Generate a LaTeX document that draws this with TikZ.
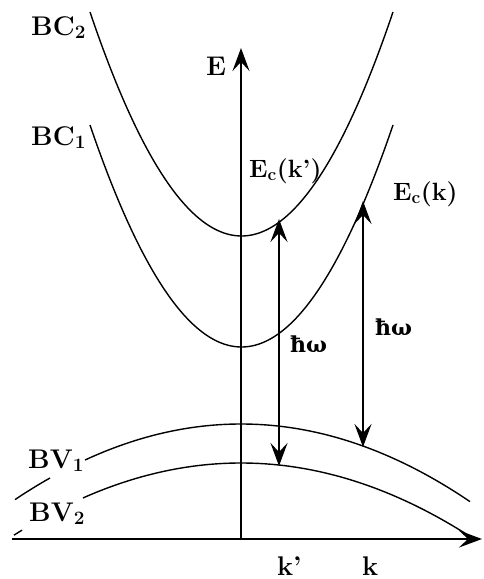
\documentclass[tikz,border=0pt]{standalone}
\usepackage{fontspec}
\newfontfamily\omfont{DejaVu Serif}
\usetikzlibrary{arrows.meta}
\begin{document}
\begin{tikzpicture}[x=1pt,y=-1pt,
  band/.style={line width=1.4pt, smooth, samples=80},
  tipa/.tip={Stealth[length=23pt,width=17pt,inset=9pt]},
  axis/.style={line width=2.6pt, -tipa},
  trans/.style={line width=2.4pt, tipa-tipa},
  lab/.style={inner sep=0pt, anchor=base west, font=\fontsize{27}{29}\selectfont\bfseries},
  lbl/.style={inner sep=0pt, anchor=base west, font=\fontsize{25}{27}\selectfont\bfseries},
  hw/.style={inner sep=0pt, anchor=base west, font=\fontsize{22}{24}\selectfont\omfont\bfseries}]
\useasboundingbox (0,0) rectangle (483,579);
% coordinates
\coordinate (O) at (241,539);
\coordinate (Xend) at (482,539);
\coordinate (Yend) at (241,48);
\coordinate (Xstart) at (12,539);
\coordinate (A1top) at (279,219);
\coordinate (A1bot) at (279,466);
\coordinate (A2top) at (363,201);
\coordinate (A2bot) at (363,447);
% bands
\draw[band, domain=90:393] plot (\x, {236-97.6*((\x-241.5)/100)^2});
\draw[band, domain=90:393] plot (\x, {347-96.7*((\x-241.5)/100)^2});
\draw[band, domain=85:470] plot (\x, {424+14.8*((\x-241)/100)^2});
\draw[band, domain=15:50] plot (\x, {424+14.8*((\x-241)/100)^2});
\draw[band, domain=83:472] plot (\x, {463+14*((\x-241)/100)^2});
\draw[band, domain=14:22] plot (\x, {463+14*((\x-241)/100)^2});
% axes
\draw[line width=2.6pt] (Xstart) -- (O);
\draw[axis] (O) -- (Xend);
\draw[axis] (O) -- (Yend);
% transitions
\draw[trans] (A1bot) -- (A1top);
\draw[trans] (A2bot) -- (A2top);
% labels
\node[lab] (bc2) at (31,35) {BC\textsubscript{2}};
\node[lab] (bc1) at (31,145) {BC\textsubscript{1}};
\node[lab] (bv1) at (28,468) {BV\textsubscript{1}};
\node[lab] (bv2) at (29,521) {BV\textsubscript{2}};
\node[lab] (E) at (206,75) {E};
\node[lbl] (eck1) at (249,177) {E\textsubscript{c}(k')};
\node[lbl] (eck) at (393,200) {E\textsubscript{c}(k)};
\node[hw] (hw1) at (290,352) {ħω};
\node[hw] (hw2) at (375,335) {ħω};
\node[lab] (kp) at (277,575) {k'};
\node[lab] (k) at (362,575) {k};
\end{tikzpicture}
\end{document}
